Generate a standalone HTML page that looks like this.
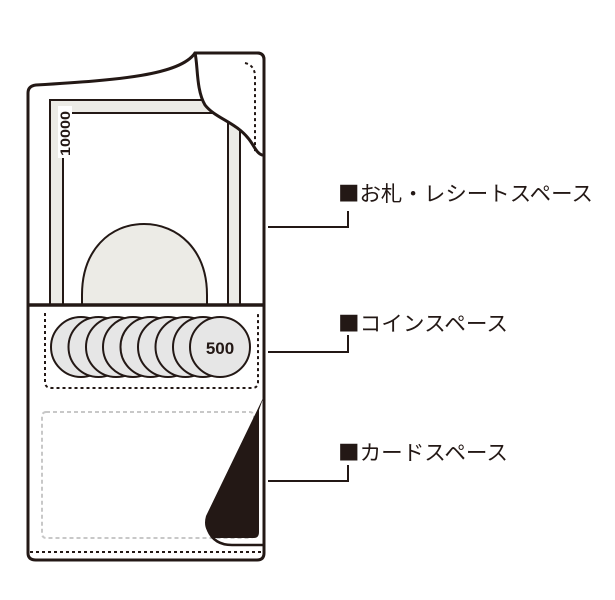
<!DOCTYPE html>
<html><head><meta charset="utf-8"><style>
html,body{margin:0;padding:0;background:#fff;}
svg{display:block;}
text{font-family:"Liberation Sans","Noto Sans CJK JP",sans-serif;}
.lbl{font-family:"Noto Sans CJK JP",sans-serif;}
</style></head><body>
<svg width="615" height="600" viewBox="0 0 615 600" xmlns="http://www.w3.org/2000/svg">
<!-- outer wallet -->
<path d="M28,93 Q28,86 36,85 C120,80 180,75 195,53 L257,53 Q264,53 264,60 L264,553 Q264,560 257,560 L36,560 Q28,560 28,553 Z" fill="#fff" stroke="#231815" stroke-width="3"/>
<!-- bill -->
<rect x="50" y="100" width="190" height="205" fill="#ecebe6" stroke="#231815" stroke-width="2"/>
<rect x="63" y="113" width="165" height="192" fill="#fff" stroke="#231815" stroke-width="2"/>
<rect x="52" y="102" width="10" height="60" fill="#ecebe6"/>
<rect x="58" y="106" width="14" height="52" fill="#fff"/>
<text x="0" y="0" transform="translate(70,156) rotate(-90)" font-size="14" font-weight="bold" fill="#231815" textLength="45" lengthAdjust="spacingAndGlyphs">10000</text>
<!-- bump -->
<path d="M82,305 L82,295 C82,250 110,224 144,224 C178,224 207,250 207,295 L207,305 Z" fill="#ecebe6" stroke="#231815" stroke-width="2"/>
<!-- flap -->
<path d="M195,53 C198,65 196,90 205,105 C215,118 235,122 248,138 C254,145 256,153 262,155 L264,155 L264,60 Q264,53 257,53 Z" fill="#fff" stroke="#231815" stroke-width="3" stroke-linejoin="round"/>
<path d="M245,63 Q254,65 255,75 L255,152" fill="none" stroke="#231815" stroke-width="2" stroke-dasharray="3,3"/>
<!-- divider -->
<line x1="28" y1="305" x2="264" y2="305" stroke="#231815" stroke-width="3.5"/>
<!-- coin box -->
<path d="M45,313 L45,382 Q45,388 52,388 L252,388 Q258,388 258,382 L258,313" fill="none" stroke="#231815" stroke-width="2" stroke-dasharray="3,3"/>
<g fill="#e6e6e6" stroke="#231815" stroke-width="2">
<circle cx="81" cy="347" r="30"/><circle cx="98.5" cy="347" r="30"/><circle cx="116" cy="347" r="30"/>
<circle cx="133" cy="347" r="30"/><circle cx="150.5" cy="347" r="30"/><circle cx="168" cy="347" r="30"/>
<circle cx="185.5" cy="347" r="30"/><circle cx="203" cy="347" r="30"/><circle cx="220" cy="347" r="30"/>
</g>
<text x="220" y="354" text-anchor="middle" font-size="17" font-weight="bold" fill="#231815">500</text>
<!-- card box -->
<rect x="42" y="412" width="212" height="126" rx="4" fill="none" stroke="#c8c8c8" stroke-width="2" stroke-dasharray="4,3"/>
<!-- card flap -->
<path d="M264,396 L206,516 Q202,530 214,538 L254,538 Q259,538 259,532 L259,410 Z" fill="#231815"/>
<path d="M208,530 Q214,545 232,545 L264,545" fill="none" stroke="#231815" stroke-width="2.5"/>
<!-- bottom dotted -->
<line x1="30" y1="552" x2="262" y2="552" stroke="#231815" stroke-width="2" stroke-dasharray="3,3"/>
<!-- connectors -->
<g fill="none" stroke="#231815" stroke-width="2">
<path d="M268,227 L348,227 L348,211"/>
<path d="M268,352 L348,352 L348,335"/>
<path d="M268,481 L348,481 L348,465"/>
</g>
<g class="lbl" font-size="21" fill="#231815">
<text class="lbl" x="338" y="201" textLength="255" lengthAdjust="spacingAndGlyphs">■お札・レシートスペース</text>
<text class="lbl" x="338" y="331" textLength="170" lengthAdjust="spacingAndGlyphs">■コインスペース</text>
<text class="lbl" x="338" y="460" textLength="170" lengthAdjust="spacingAndGlyphs">■カードスペース</text>
</g>
</svg>
</body></html>
